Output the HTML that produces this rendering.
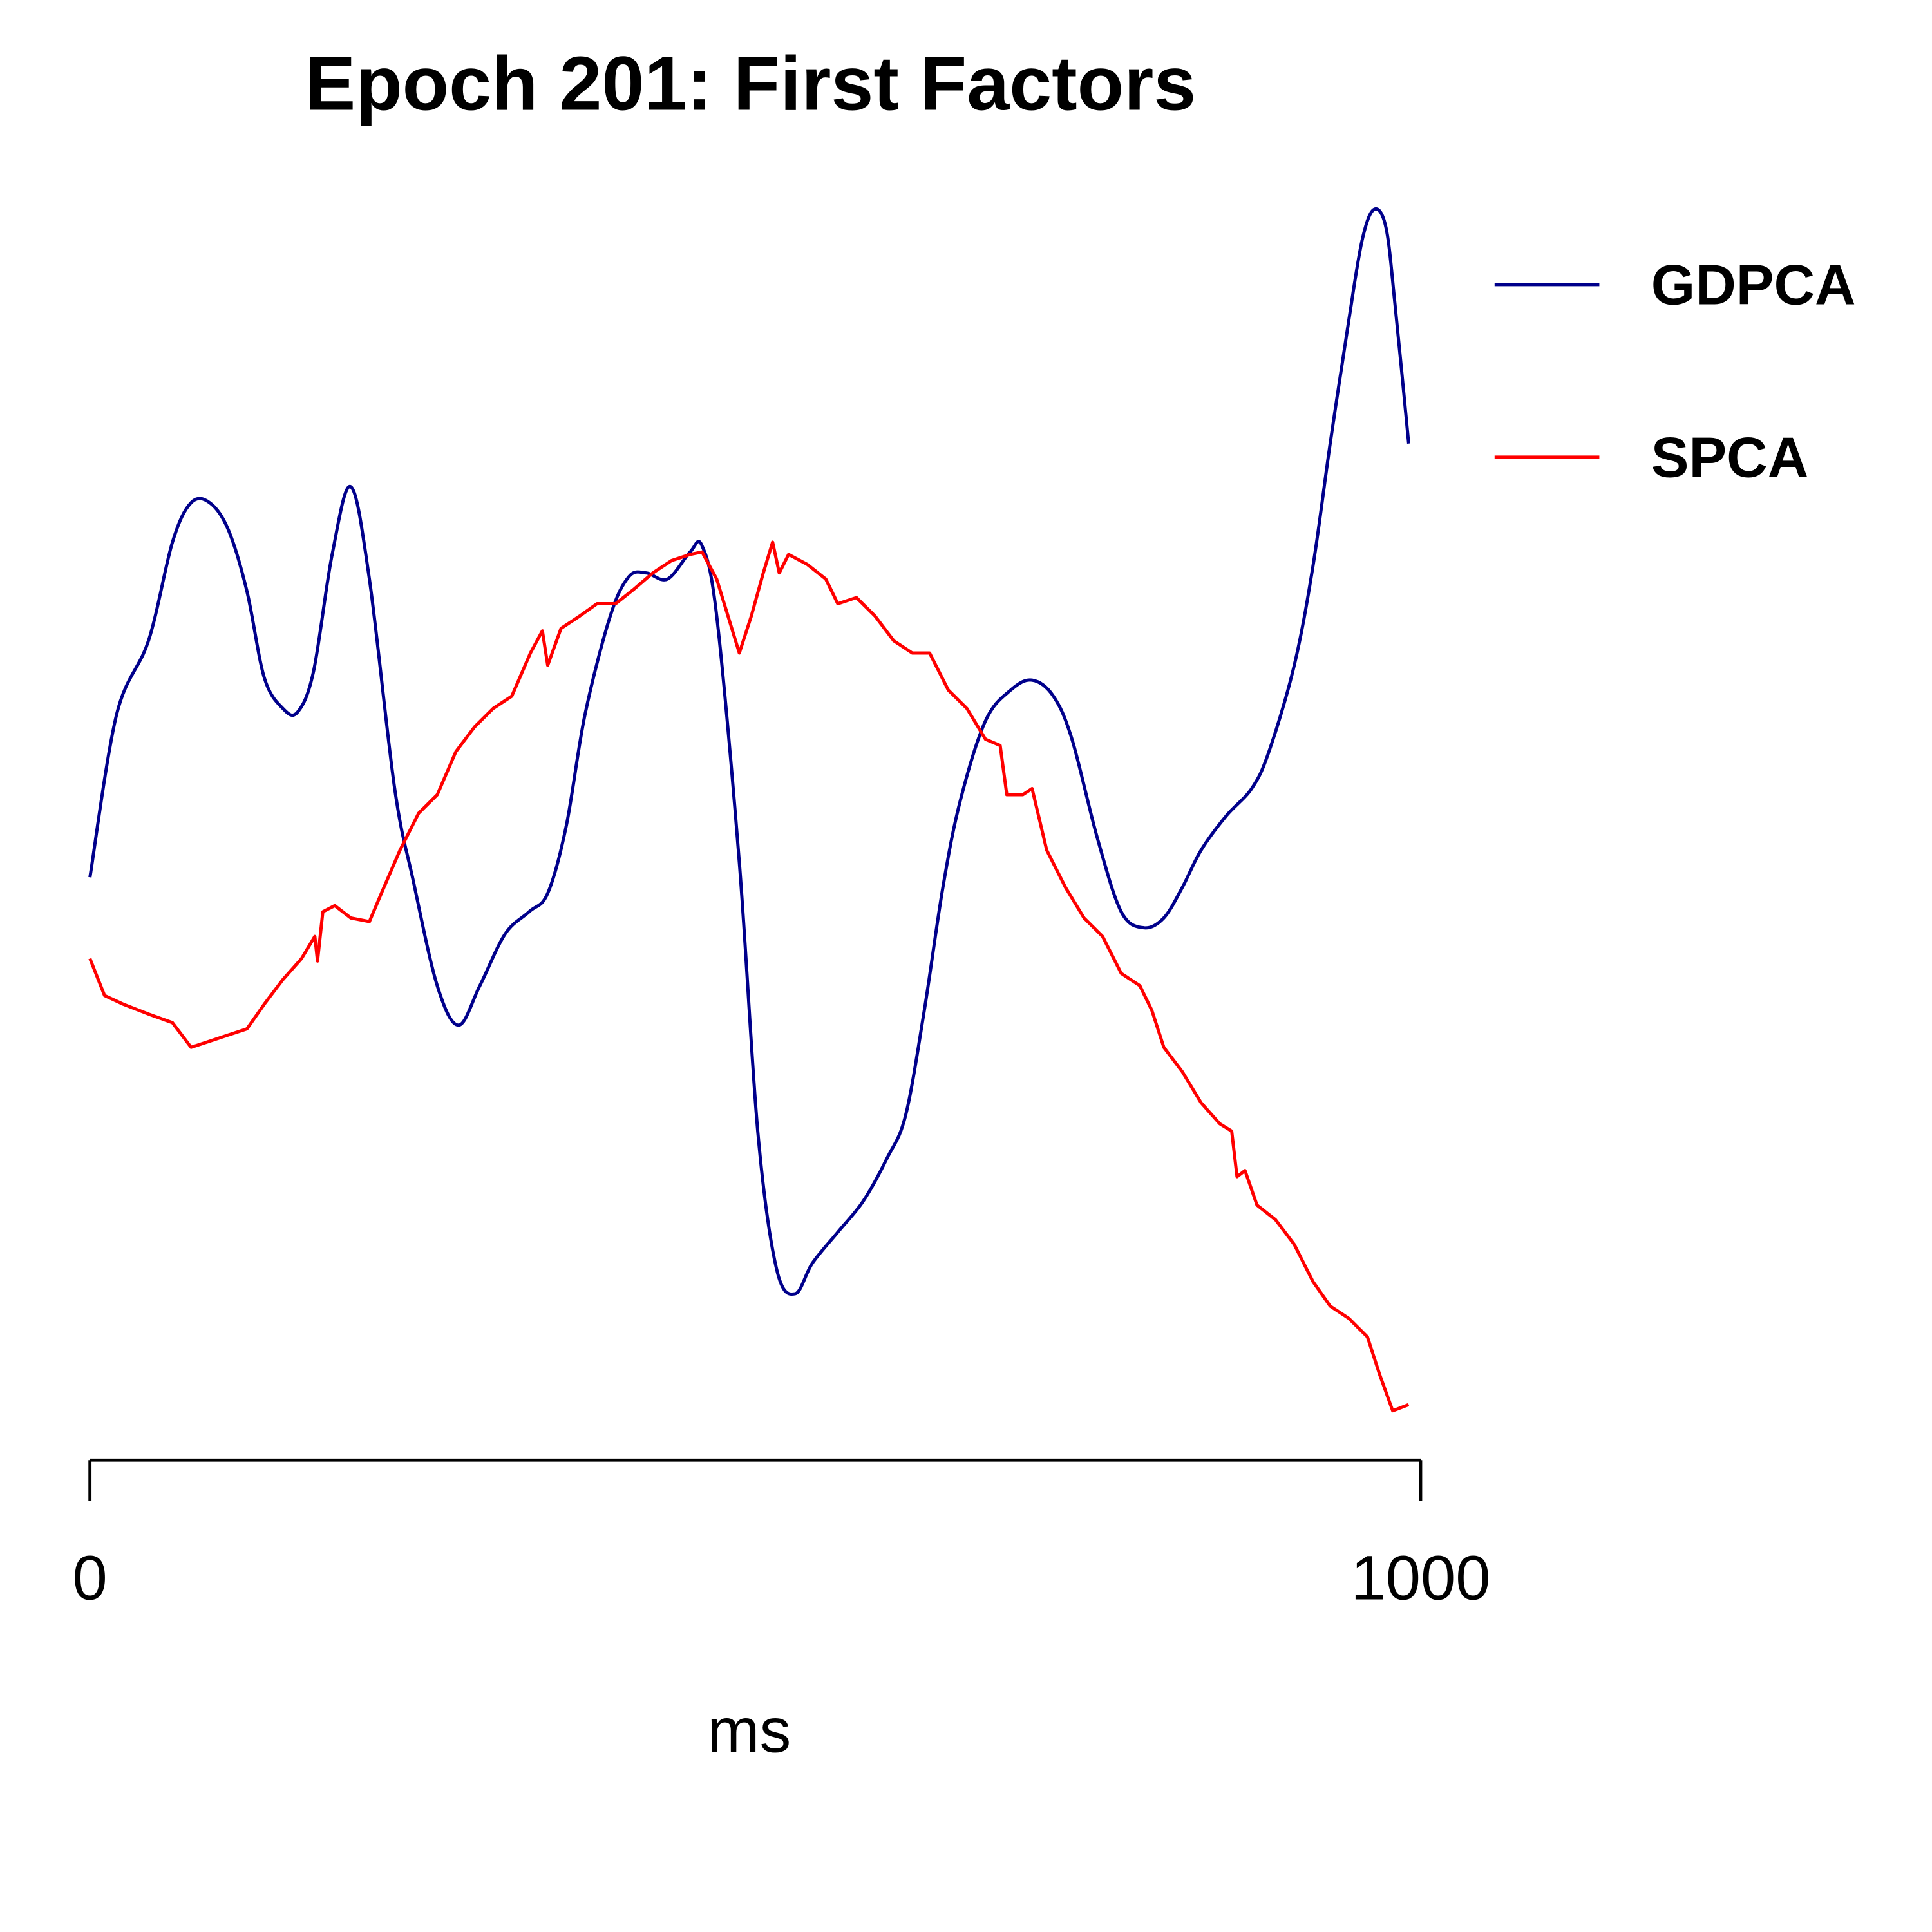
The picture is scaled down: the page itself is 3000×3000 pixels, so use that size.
<!DOCTYPE html>
<html><head><meta charset="utf-8"><style>
html,body{margin:0;padding:0;background:#fff;}
svg{display:block;}
</style></head><body>
<svg id="chart" width="3000" height="3000" viewBox="0 0 1568 1568" xmlns="http://www.w3.org/2000/svg" font-family="Liberation Sans, sans-serif">
<rect width="1568" height="1568" fill="#fff"/>
<text x="609" y="89" font-size="62" font-weight="bold" text-anchor="middle">Epoch 201: First Factors</text>
<g stroke="#000" stroke-width="2.5" fill="none">
<line x1="73" y1="1185" x2="1153" y2="1185"/>
<line x1="73" y1="1185" x2="73" y2="1218"/>
<line x1="1153" y1="1185" x2="1153" y2="1218"/>
</g>
<text x="73" y="1298" font-size="51" text-anchor="middle">0</text>
<text x="1153" y="1298" font-size="51" text-anchor="middle">1000</text>
<text x="608" y="1422" font-size="51" text-anchor="middle">ms</text>
<g id="series"></g>
<g>
<line x1="1213" y1="231" x2="1298" y2="231" stroke="#00008B" stroke-width="2.5"/>
<text x="1340" y="247" font-size="46" font-weight="bold">GDPCA</text>
<line x1="1213" y1="371" x2="1298" y2="371" stroke="#FF0000" stroke-width="2.5"/>
<text x="1340" y="387" font-size="46" font-weight="bold">SPCA</text>
</g>
</svg>
<script>
const gdpcaMs = [0,20,44,62,76,90,104,118,131,145,156,168,182,196,210,229,243,261,277,293,312,330,344,358,372,391,405,418,434,451,460,471,488,502,516,530,543,562,581,599,613,627,641,654,673,692,708,724,738,757,775,792,807,821,835,854,873,886,905,919,932,946,956,965,974,981,991];
const gdpcaVal = [488,620,680,760,792,792,770,720,650,625,622,655,750,805,730,560,485,400,368,400,442,460,475,530,620,700,732,735,730,752,757,700,500,280,170,150,175,200,225,260,295,380,480,550,615,640,648,635,600,520,460,447,455,480,510,538,560,590,660,740,840,940,1005,1030,1015,950,840];
const spcaMs = [0,11,25,44,62,76,90,104,118,131,145,159,169,171,175,184,196,210,219,233,247,261,275,289,303,317,331,340,344,354,368,381,395,409,423,437,451,460,471,488,497,506,513,518,525,539,553,562,576,590,604,618,631,645,659,673,684,689,701,708,719,733,747,761,775,789,798,807,821,835,849,858,862,868,877,891,905,919,932,946,960,969,979,991];
const spcaVal = [422,392,385,377,370,350,355,360,365,385,405,422,440,420,460,465,455,452,475,510,540,555,590,610,625,635,670,688,660,690,700,710,710,722,735,745,750,752,730,670,700,735,760,735,750,742,730,710,715,700,680,670,670,640,625,600,595,555,555,560,510,480,455,440,410,400,380,350,330,305,288,282,245,250,222,210,190,160,140,130,115,85,55,60];

const svg = document.getElementById('series');
function xScale(ms){ return 73 + ms * 1.08; }
function yScale(v){ return 1200 - v; }
function pathFor(xs, ys){
  const p = xs.map((x,i)=>[xScale(x), yScale(ys[i])]);
  let d = 'M' + p[0][0] + ',' + p[0][1];
  for(let i=0;i<p.length-1;i++){
    const p0=p[Math.max(0,i-1)], p1=p[i], p2=p[i+1], p3=p[Math.min(p.length-1,i+2)];
    const c1x=p1[0]+(p2[0]-p0[0])/6, c1y=p1[1]+(p2[1]-p0[1])/6;
    const c2x=p2[0]-(p3[0]-p1[0])/6, c2y=p2[1]-(p3[1]-p1[1])/6;
    d += ' C'+c1x+','+c1y+' '+c2x+','+c2y+' '+p2[0]+','+p2[1];
  }
  return d;
}
const g = document.createElementNS('http://www.w3.org/2000/svg','path');
g.setAttribute('d', pathFor(gdpcaMs, gdpcaVal));
g.setAttribute('fill','none'); g.setAttribute('stroke','#00008B'); g.setAttribute('stroke-width','2.6');


svg.appendChild(g);
const s = document.createElementNS('http://www.w3.org/2000/svg','polyline');
s.setAttribute('points', spcaMs.map((x,i)=>xScale(x)+','+yScale(spcaVal[i])).join(' '));
s.setAttribute('fill','none'); s.setAttribute('stroke','#FF0000'); s.setAttribute('stroke-width','2.6'); s.setAttribute('stroke-linejoin','round');


svg.appendChild(s);
</script>
</body></html>
